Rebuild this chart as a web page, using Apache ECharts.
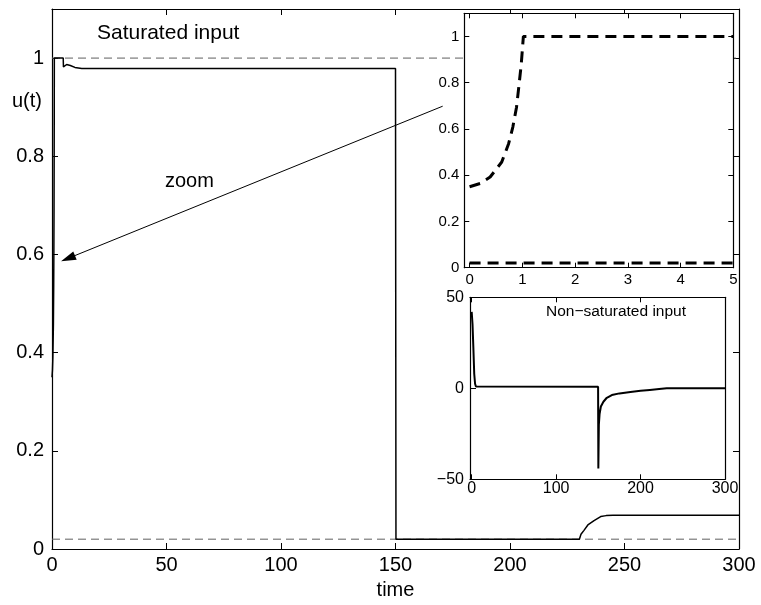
<!DOCTYPE html>
<html>
<head>
<meta charset="utf-8">
<script src="https://cdn.jsdelivr.net/npm/echarts@6/dist/echarts.min.js"></script>
<style>html,body{margin:0;padding:0;background:#fff}#c{width:761px;height:605px}</style>
</head>
<body>
<div id="c"></div>
<script>
// ---- main plot: saturated input u(t)
const mainT = [0, 0.2, 0.39, 0.61, 0.74, 0.82, 0.89, 0.94, 0.98, 1.02, 4.9, 5.0, 5.6, 6.4, 8, 10, 13, 150, 150.2, 230.3, 231, 232.3, 234, 236.7, 239.6, 242, 245, 300];
const mainU = [0.35, 0.364, 0.392, 0.457, 0.536, 0.608, 0.694, 0.795, 0.881, 1.0, 1.0, 0.982, 0.985, 0.987, 0.985, 0.981, 0.979, 0.979, 0.02, 0.02, 0.03, 0.038, 0.049, 0.058, 0.066, 0.068, 0.069, 0.069];
const boundT = [0, 300];
const upperBound = [1, 1];
const lowerBound = [0.02, 0.02];
const mainXTicks = [0, 50, 100, 150, 200, 250, 300];
const mainYTicks = [0, 0.2, 0.4, 0.6, 0.8, 1];

// ---- inset 1: zoom on first 5 time units
const zoomT = [0, 0.2, 0.39, 0.61, 0.74, 0.82, 0.89, 0.94, 0.98, 1.02, 5];
const zoomU = [0.35, 0.364, 0.392, 0.457, 0.536, 0.608, 0.694, 0.795, 0.881, 1.0, 1.0];
const zoomBoundT = [0, 5];
const zoomLower = [0.02, 0.02];
const zoomXTicks = [0, 1, 2, 3, 4, 5];
const zoomYTicks = [0, 0.2, 0.4, 0.6, 0.8, 1];

// ---- inset 2: non-saturated input
const nsT = [0, 1, 2, 3, 4, 5, 6, 149.7, 150, 150.6, 151.5, 153, 156, 160, 166, 175, 188, 200, 211, 222, 231, 300];
const nsU = [42, 35, 22, 8, 2.5, 1.0, 0.9, 0.9, -44, -20, -14, -10, -7.4, -5.2, -3.7, -2.8, -2, -1.4, -0.9, -0.4, 0, 0];
const nsXTicks = [0, 100, 200, 300];

const FONT = "'Liberation Sans', Arial, Helvetica, sans-serif";
const pair = (ts, vs) => ts.map((t, i) => [t, vs[i]]);
const minus = v => String(v).replace('-', '\u2212');

function axis(gridIndex, pos, min, max, opts) {
  const o = Object.assign({
    type: 'value', gridIndex: gridIndex, position: pos, min: min, max: max,
    axisLine: { show: true, onZero: false, lineStyle: { color: '#000', width: 1.2 } },
    axisTick: { show: true, inside: true, length: 6, lineStyle: { color: '#000', width: 1 } },
    axisLabel: { show: false },
    splitLine: { show: false }
  }, opts || {});
  return o;
}

const chart = echarts.init(document.getElementById('c'), null, { renderer: 'canvas' });
const option = {
  animation: false,
  backgroundColor: '#fff',
  textStyle: { fontFamily: FONT },
  grid: [
    { left: 52, top: 9, width: 687, height: 543, show: false, z: 1 },
    { left: 464.3, top: 13.3, width: 269, height: 254.4, show: true, backgroundColor: '#fff', borderWidth: 0, z: 8 },
    { left: 470, top: 297.3, width: 255, height: 182, show: true, backgroundColor: '#fff', borderWidth: 0, z: 8 }
  ],
  xAxis: [
    axis(0, 'bottom', 0, 300, {
      interval: 50,
      axisLabel: { show: true, color: '#000', fontSize: 20, fontFamily: FONT, margin: 6, customValues: mainXTicks },
      axisTick: { show: true, inside: true, length: 6, lineStyle: { color: '#000' }, customValues: mainXTicks },
      name: 'time', nameLocation: 'middle', nameGap: 31,
      nameTextStyle: { color: '#000', fontSize: 20, fontFamily: FONT }
    }),
    axis(0, 'top', 0, 300, { interval: 50 }),
    axis(1, 'bottom', -0.1, 5, {
      z: 10,
      axisLabel: { show: true, color: '#000', fontSize: 15, fontFamily: FONT, margin: 5, customValues: zoomXTicks },
      axisTick: { show: true, inside: true, length: 5, lineStyle: { color: '#000' }, customValues: zoomXTicks }
    }),
    axis(1, 'top', -0.1, 5, {
      z: 10,
      axisTick: { show: true, inside: true, length: 5, lineStyle: { color: '#000' }, customValues: zoomXTicks }
    }),
    axis(2, 'bottom', -2, 300, {
      z: 10,
      axisLabel: { show: true, color: '#000', fontSize: 16, fontFamily: FONT, margin: 1, customValues: nsXTicks },
      axisTick: { show: true, inside: true, length: 5, lineStyle: { color: '#000' }, customValues: nsXTicks }
    }),
    axis(2, 'top', -2, 300, {
      z: 10,
      axisTick: { show: true, inside: true, length: 5, lineStyle: { color: '#000' }, customValues: nsXTicks }
    })
  ],
  yAxis: [
    axis(0, 'left', 0, 1.1, {
      axisLabel: { show: true, color: '#000', fontSize: 20, fontFamily: FONT, margin: 8, customValues: mainYTicks },
      axisTick: { show: true, inside: true, length: 6, lineStyle: { color: '#000' }, customValues: mainYTicks }
    }),
    axis(0, 'right', 0, 1.1, {
      axisTick: { show: true, inside: true, length: 6, lineStyle: { color: '#000' }, customValues: mainYTicks }
    }),
    axis(1, 'left', 0, 1.1, {
      z: 10,
      axisLabel: { show: true, color: '#000', fontSize: 15, fontFamily: FONT, margin: 5, customValues: zoomYTicks },
      axisTick: { show: true, inside: true, length: 5, lineStyle: { color: '#000' }, customValues: zoomYTicks }
    }),
    axis(1, 'right', 0, 1.1, {
      z: 10,
      axisTick: { show: true, inside: true, length: 5, lineStyle: { color: '#000' }, customValues: zoomYTicks }
    }),
    axis(2, 'left', -50, 50, {
      z: 10, interval: 50,
      axisLabel: { show: true, color: '#000', fontSize: 16, fontFamily: FONT, margin: 6, formatter: minus }
    }),
    axis(2, 'right', -50, 50, { z: 10, interval: 50 })
  ],
  series: [
    {
      name: 'upper bound', type: 'line', xAxisIndex: 0, yAxisIndex: 0, z: 2,
      data: pair(boundT, upperBound), showSymbol: false, silent: true,
      lineStyle: { color: '#606060', width: 1, type: [8, 5] }
    },
    {
      name: 'lower bound', type: 'line', xAxisIndex: 0, yAxisIndex: 0, z: 2,
      data: pair(boundT, lowerBound), showSymbol: false, silent: true,
      lineStyle: { color: '#606060', width: 1, type: [8, 5] }
    },
    {
      name: 'saturated input', type: 'line', xAxisIndex: 0, yAxisIndex: 0, z: 3,
      data: pair(mainT, mainU), showSymbol: false,
      lineStyle: { color: '#000', width: 1.5 },
      markLine: {
        silent: true, symbol: ['none', 'triangle'], symbolSize: [9, 15],
        label: { show: false },
        lineStyle: { color: '#000', width: 1, type: 'solid' },
        data: [[{ coord: [170.6, 0.902] }, { coord: [7.0, 0.592] }]]
      }
    },
    {
      name: 'zoom', type: 'line', xAxisIndex: 2, yAxisIndex: 2, z: 11,
      data: pair(zoomT, zoomU), showSymbol: false,
      lineStyle: { color: '#000', width: 3, type: [11, 7] }
    },
    {
      name: 'zoom lower', type: 'line', xAxisIndex: 2, yAxisIndex: 2, z: 11,
      data: pair(zoomBoundT, zoomLower), showSymbol: false,
      lineStyle: { color: '#000', width: 3, type: [11, 7] }
    },
    {
      name: 'non-saturated', type: 'line', xAxisIndex: 4, yAxisIndex: 4, z: 11,
      data: pair(nsT, nsU), showSymbol: false,
      lineStyle: { color: '#000', width: 2 }
    }
  ],
  graphic: [
    { type: 'text', left: 97, top: 23, z: 20, style: { text: 'Saturated input', fill: '#000', font: '21px ' + FONT } },
    { type: 'text', right: 719, top: 91, z: 20, style: { text: 'u(t)', fill: '#000', font: '20px ' + FONT } },
    { type: 'text', left: 165, top: 171, z: 20, style: { text: 'zoom', fill: '#000', font: '20px ' + FONT } },
    { type: 'text', left: 546, top: 304, z: 20, style: { text: 'Non\u2212saturated input', fill: '#000', font: '15.5px ' + FONT } }
  ]
};
chart.setOption(option);
</script>
</body>
</html>
